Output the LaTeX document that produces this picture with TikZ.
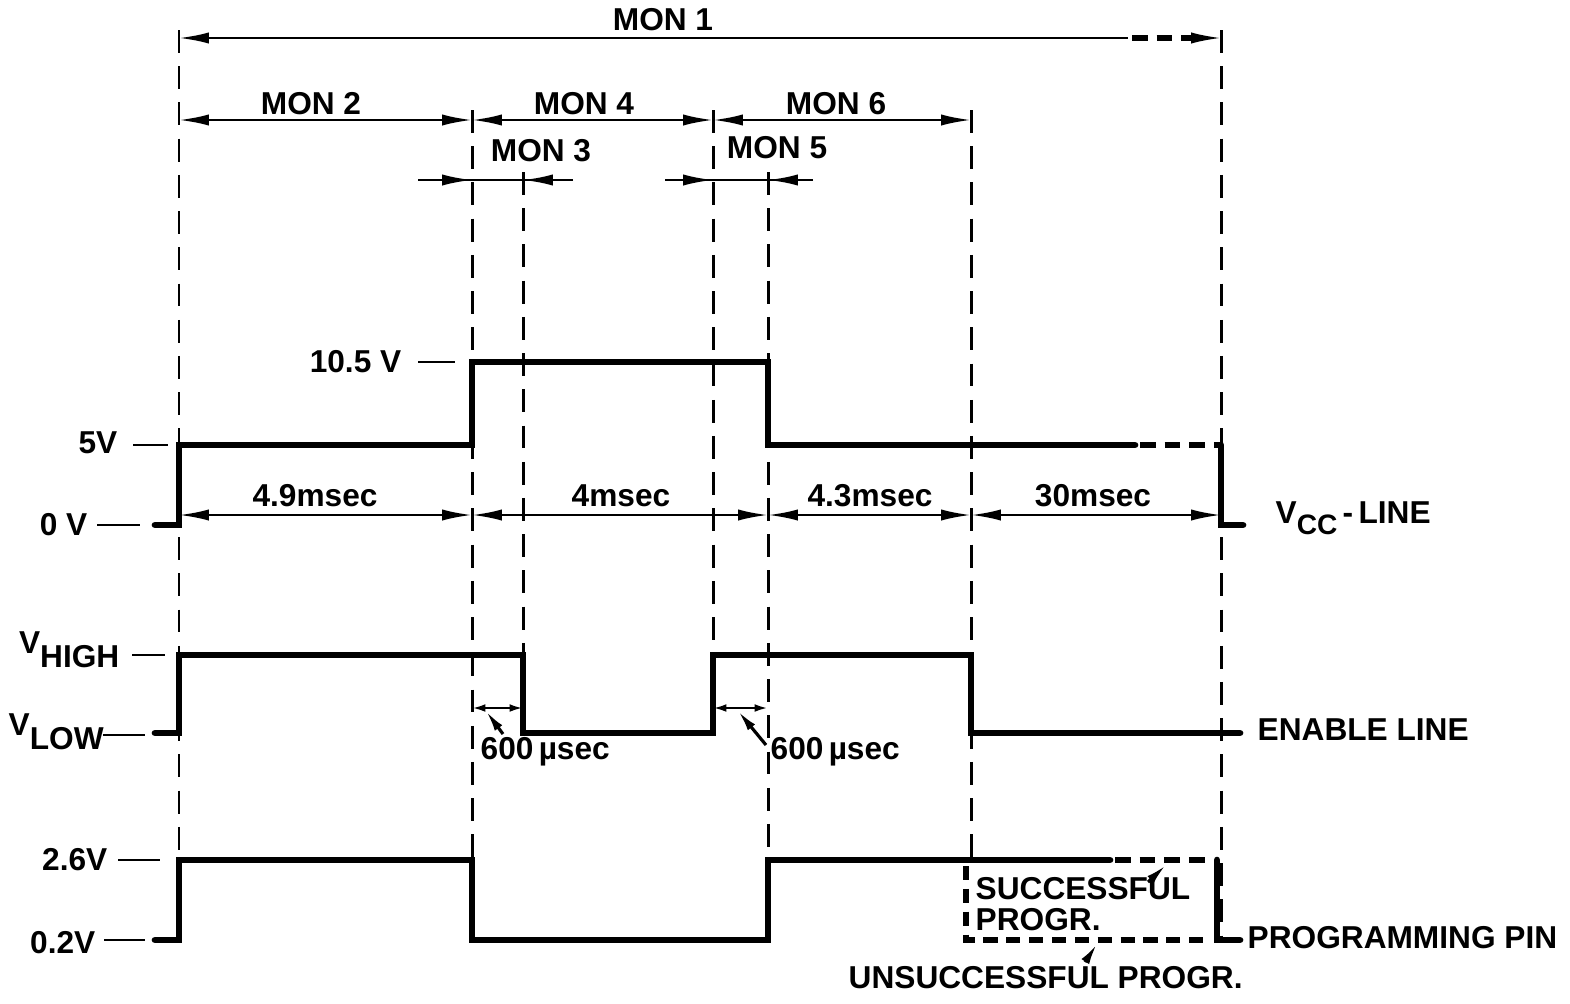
\documentclass[tikz,border=0pt]{standalone}
\usepackage{fontspec}
\setmainfont{Liberation Sans}
\usetikzlibrary{arrows.meta}

\newcommand\lowtext[2][4pt]{\raisebox{-#1}{#2}}

\begin{document}
\begin{tikzpicture}[x=0.01cm, y=-0.01cm,
	every node/.style={font=\bfseries\fontsize{9}{10}\selectfont, inner sep=0pt},
	wave/.style={line width=1.9pt, line cap=round},
	wavedash/.style={line width=1.9pt, dash pattern=on 4.5pt off 2.5pt},
	guide/.style={line width=0.85pt, dash pattern=on 6.5pt off 3.8pt},
	dimline/.style={line width=0.7pt},
	dimtip/.style={dimline, -{Latex[length=8.5pt,width=3.2pt]}},
	dimboth/.style={dimline, {Latex[length=8.5pt,width=3.2pt]}-{Latex[length=8.5pt,width=3.2pt]}},
	smallboth/.style={dimline, {Latex[length=3.8pt,width=2.2pt]}-{Latex[length=3.8pt,width=2.2pt]}},
	leader/.style={line width=0.9pt, -{Latex[length=6pt,width=2.6pt]}},
	levtick/.style={line width=0.7pt}]
		% time marks and levels
		\coordinate (A) at (179,0);
		\coordinate (B) at (472,0);
		\coordinate (C) at (523,0);
		\coordinate (D) at (713,0);
		\coordinate (E) at (768,0);
		\coordinate (F) at (971,0);
		\coordinate (G) at (1221,0);
		\coordinate (v0) at (0,525);
		\coordinate (v5) at (0,445);
		\coordinate (v10) at (0,362);
		\coordinate (eh) at (0,655);
		\coordinate (el) at (0,733);
		\coordinate (ph) at (0,860);
		\coordinate (pl) at (0,940);
		\coordinate (m1) at (0,38);
		\coordinate (m2) at (0,120);
		\coordinate (m3) at (0,180);
		\coordinate (tm) at (0,515);
		\coordinate (us) at (0,708);
		
		\useasboundingbox (0,0) rectangle (1570,1003);
		
		% dashed guide lines
		\draw[guide] (A|-0,30) -- (A|-pl);
		\draw[guide] (B|-0,110) -- (B|-pl);
		\draw[guide] (C|-0,172) -- (C|-el);
		\draw[guide] (D|-0,110) -- (D|-el);
		\draw[guide] (E|-0,172) -- (E|-pl);
		\draw[guide] (F|-0,110) -- (F|-ph);
		\draw[guide] (G|-0,30) -- (G|-pl);
		
		% MON dimensions
		\node (mon1) at (663,20) {MON 1};
		\draw[dimline, {Latex[length=8.5pt,width=3.2pt]}-] (A|-m1) -- (1128,38);
		\draw[line width=1.6pt, dash pattern=on 4.5pt off 2.5pt] (1132,38) -- (1200,38);
		\draw[dimtip] (1192,38) -- (G|-m1);
		\node (mon2) at (311,104) {MON 2};
		\node (mon4) at (584,104) {MON 4};
		\node (mon6) at (836,104) {MON 6};
		\draw[dimboth] (A|-m2) -- (B|-m2);
		\draw[dimboth] (B|-m2) -- (D|-m2);
		\draw[dimboth] (D|-m2) -- (F|-m2);
		\node (mon3) at (541,151) {MON 3};
		\node (mon5) at (777,148) {MON 5};
		\draw[dimline] (418,180) -- (573,180);
		\draw[dimtip] (418,180) -- (B|-m3);
		\draw[dimtip] (573,180) -- (C|-m3);
		\draw[dimline] (665,180) -- (813,180);
		\draw[dimtip] (665,180) -- (D|-m3);
		\draw[dimtip] (813,180) -- (E|-m3);
		
		% Vcc line
		\node[anchor=east] (l105) at (402,362) {10.5 V};
		\draw[levtick] (418,362) -- (455,362);
		\node[anchor=east] (l5) at (118,443) {5V};
		\draw[levtick] (133,445) -- (168,445);
		\node[anchor=east] (l0) at (88,525) {0 V};
		\draw[levtick] (97,525) -- (140,525);
		\draw[wave] (155,525) -- (A|-v0) -- (A|-v5) -- (B|-v5) -- (B|-v10) -- (E|-v10) -- (E|-v5) -- (1135,445);
		\draw[wavedash] (1140,445) -- (G|-v5);
		\draw[wave] (G|-v5) -- (G|-v0) -- (1243,525);
		\node[anchor=west] (vcc) at (1275,518) {V\lowtext[3pt]{\fontsize{8}{9}\selectfont CC}\,-\,LINE};
		\node (t49) at (315,496) {4.9msec};
		\node (t4) at (621,496) {4msec};
		\node (t43) at (870,496) {4.3msec};
		\node (t30) at (1093,496) {30msec};
		\draw[dimboth] (A|-tm) -- (B|-tm);
		\draw[dimboth] (B|-tm) -- (E|-tm);
		\draw[dimboth] (E|-tm) -- (F|-tm);
		\draw[dimboth] (F|-tm) -- (G|-tm);
		
		% enable line
		\node[anchor=east] (lhi) at (120,650) {V\lowtext{HIGH}};
		\draw[levtick] (132,655) -- (165,655);
		\node[anchor=west] (llo) at (8,732) {V\lowtext{LOW}};
		\draw[levtick] (103,735) -- (145,735);
		\draw[wave] (155,733) -- (A|-el) -- (A|-eh) -- (C|-eh) -- (C|-el) -- (D|-el) -- (D|-eh) -- (F|-eh) -- (F|-el) -- (1240,733);
		\node[anchor=west] (en) at (1257,730) {ENABLE LINE};
		\draw[smallboth] (B|-us) -- (C|-us);
		\draw[smallboth] (D|-us) -- (E|-us);
		\node[anchor=west] (us1) at (480,752) {600\,µsec};
		\node[anchor=west] (us2) at (770,752) {600\,µsec};
		\draw[leader] (503,734) -- (486,711);
		\draw[leader] (766,745) -- (738,711);
		
		% programming pin
		\node[anchor=east] (l26) at (108,860) {2.6V};
		\draw[levtick] (118,860) -- (160,860);
		\node[anchor=east] (l02) at (96,943) {0.2V};
		\draw[levtick] (104,940) -- (145,940);
		\draw[wave] (155,940) -- (A|-pl) -- (A|-ph) -- (B|-ph) -- (B|-pl) -- (E|-pl) -- (E|-ph) -- (1110,860);
		\draw[wavedash] (1115,860) -- (1212,860);
		\draw[wave] (1217,860) -- (1217,940) -- (1240,940);
		\draw[line width=1.5pt, dash pattern=on 4pt off 2.5pt] (966,866) -- (966,940) -- (1212,940);
		\node[anchor=west] (pp) at (1247,938) {PROGRAMMING PIN};
		\node[anchor=west, align=left, font=\bfseries\fontsize{9}{9}\selectfont] (succ) at (975,904) {SUCCESSFUL\\PROGR.};
		\node[anchor=west] (unsucc) at (848,978) {UNSUCCESSFUL PROGR.};
		\draw[leader] (1148,882) -- (1166,865);
		\draw[leader] (1085,962) -- (1097,944);
\end{tikzpicture}
\end{document}
